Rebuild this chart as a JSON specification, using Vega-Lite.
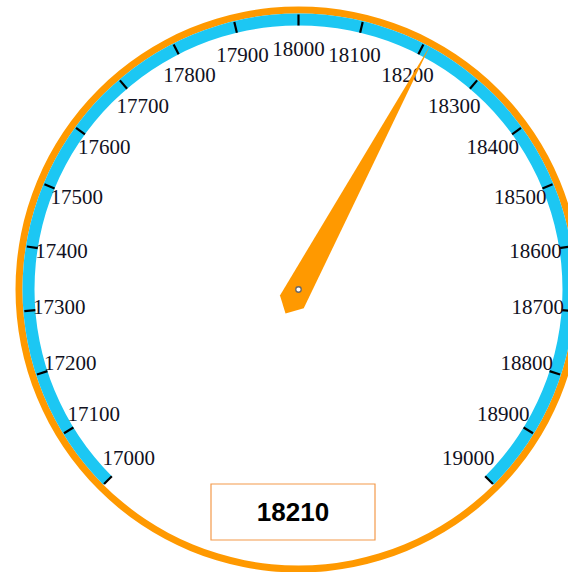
{
  "$schema": "https://vega.github.io/schema/vega-lite/v6.json",
  "width": 539,
  "height": 561,
  "autosize": "none",
  "padding": {"left": 29, "top": 9, "right": 0, "bottom": 2},
  "background": "white",
  "config": {"view": {"stroke": null}},
  "datasets": {
    "ticks": [
      {"v": 17000}, {"v": 17100}, {"v": 17200}, {"v": 17300}, {"v": 17400},
      {"v": 17500}, {"v": 17600}, {"v": 17700}, {"v": 17800}, {"v": 17900},
      {"v": 18000}, {"v": 18100}, {"v": 18200}, {"v": 18300}, {"v": 18400},
      {"v": 18500}, {"v": 18600}, {"v": 18700}, {"v": 18800}, {"v": 18900},
      {"v": 19000}
    ],
    "gauge": [{"value": 18210, "min": 17000, "max": 19000}]
  },
  "layer": [
    {
      "data": {"name": "gauge"},
      "mark": {"type": "arc", "color": "#FF9900"},
      "encoding": {
        "theta": {"value": 0},
        "theta2": {"value": 6.2832},
        "radius": {"value": 276},
        "radius2": {"value": 283}
      }
    },
    {
      "data": {"name": "gauge"},
      "mark": {"type": "arc", "color": "#1CC7F3"},
      "encoding": {
        "theta": {"field": "min", "type": "quantitative", "stack": null,
          "scale": {"domain": [17000, 19000], "range": [-2.35619, 2.35619], "zero": false}},
        "theta2": {"field": "max"},
        "radius": {"value": 264},
        "radius2": {"value": 276}
      }
    },
    {
      "data": {"name": "ticks"},
      "mark": {"type": "point", "shape": "M0,-2.75L0,-2.64", "size": 40000, "filled": false, "color": "#000000", "strokeWidth": 2.2, "opacity": 1},
      "encoding": {
        "angle": {"field": "v", "type": "quantitative",
          "scale": {"domain": [17000, 19000], "range": [-135, 135], "zero": false}}
      }
    },
    {
      "data": {"name": "ticks"},
      "mark": {"type": "text", "font": "Liberation Serif", "fontSize": 21, "color": "#111122", "align": "center", "baseline": "middle"},
      "encoding": {
        "theta": {"field": "v", "type": "quantitative", "stack": null,
          "scale": {"domain": [17000, 19000], "range": [-2.35619, 2.35619], "zero": false}},
        "radius": {"value": 240},
        "text": {"field": "v", "type": "quantitative", "format": "d"}
      }
    },
    {
      "data": {"name": "gauge"},
      "mark": {"type": "point", "shape": "M-0.875,1.945L0.765,1.945L0.765,2.505L-0.875,2.505Z", "size": 40000, "filled": true, "fill": "#ffffff", "stroke": "#F39A4B", "strokeWidth": 1.2, "opacity": 1},
      "encoding": {}
    },
    {
      "data": {"name": "gauge"},
      "mark": {"type": "text", "font": "Liberation Sans", "fontWeight": "bold", "fontSize": 26, "color": "#000000", "align": "center", "baseline": "middle", "dx": -5.5, "dy": 223},
      "encoding": {
        "text": {"field": "value", "type": "quantitative", "format": "d"}
      }
    },
    {
      "data": {"name": "gauge"},
      "mark": {"type": "point", "shape": "M0,-2.77L0.135,0.14L0,0.273L-0.135,0.14Z", "size": 40000, "filled": true, "color": "#FF9900", "strokeWidth": 0, "opacity": 1},
      "encoding": {
        "angle": {"field": "value", "type": "quantitative",
          "scale": {"domain": [17000, 19000], "range": [-135, 135], "zero": false}}
      }
    },
    {
      "data": {"name": "gauge"},
      "mark": {"type": "point", "shape": "circle", "size": 30, "filled": true, "fill": "#ffffff", "stroke": "#666666", "strokeWidth": 1.3, "opacity": 1},
      "encoding": {}
    }
  ]
}
